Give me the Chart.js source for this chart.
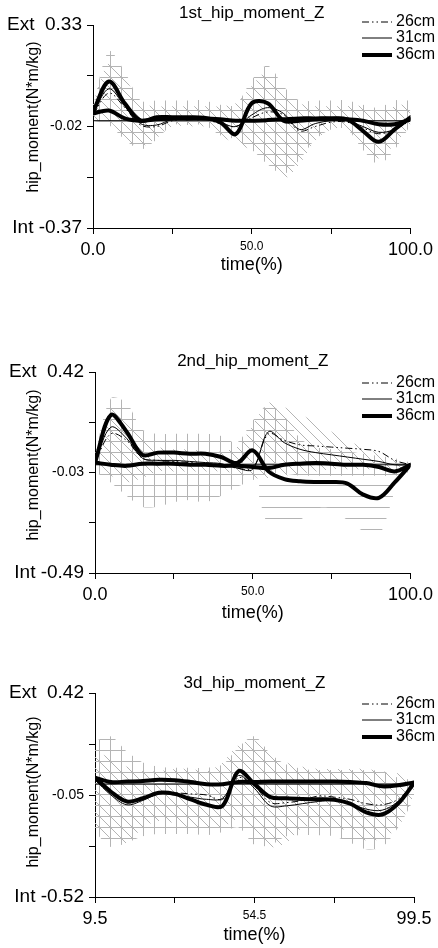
<!DOCTYPE html>
<html><head><meta charset="utf-8">
<script src="https://cdn.jsdelivr.net/npm/chart.js@4.4.1/dist/chart.umd.min.js"></script>
<style>
html,body{margin:0;padding:0;background:#fff;width:438px;height:948px;overflow:hidden}
canvas{position:absolute;left:0}
</style></head><body>
<canvas id="c1" width="438" height="290" style="top:0px"></canvas>
<canvas id="c2" width="438" height="310" style="top:320px"></canvas>
<canvas id="c3" width="438" height="308" style="top:640px"></canvas>
<script>
// ---------- DATA ----------
const seriesLabels = ['26cm', '31cm', '36cm'];

// Panel 1
const p1_title = '1st_hip_moment_Z';
const p1_time = [0,5,10,15,20,25,30,35,40,45,50,55,60,65,70,75,80,85,90,95,100];
const p1_26  = [0.02,0.095,0.045,-0.015,-0.02,0.0,0.005,0.005,-0.01,-0.02,0.01,0.03,0.02,-0.035,-0.02,-0.005,-0.005,-0.025,-0.045,-0.03,0.0];
const p1_31  = [0.025,0.11,0.05,-0.01,-0.015,0.005,0.01,0.008,-0.005,-0.02,0.02,0.045,0.025,-0.03,-0.01,0.0,0.0,-0.02,-0.04,-0.03,0.005];
const p1_36  = [0.03,0.135,0.06,0.0,0.012,0.012,0.012,0.01,-0.005,-0.046,0.06,0.06,0.0,0.0,0.005,0.008,0.005,-0.035,-0.073,-0.03,0.012];
const p1_36b = [0.025,0.035,0.008,0.0,0.005,0.008,0.008,0.008,0.005,0.0,0.0,0.002,0.005,0.008,0.008,0.008,0.005,0.0,-0.012,-0.012,0.005];
const p1_crossUp = [0.05,0.24,0.17,0.07,0.07,0.07,0.07,0.07,0.055,0.055,0.14,0.19,0.12,0.07,0.07,0.07,0.07,0.055,0.045,0.07,0.07];
const p1_crossLo = [0.0,-0.015,-0.065,-0.1,-0.065,-0.015,-0.015,-0.015,-0.05,-0.065,-0.1,-0.15,-0.185,-0.135,-0.065,-0.03,-0.03,-0.1,-0.15,-0.1,-0.015];
const p1_diagUp = [0.06,0.2,0.15,0.06,0.05,0.05,0.05,0.05,0.05,0.06,0.12,0.17,0.1,0.06,0.05,0.05,0.05,0.05,0.03,0.05,0.06];
const p1_diagLo = [0.0,0.0,-0.06,-0.09,-0.06,-0.02,-0.02,-0.02,-0.05,-0.08,-0.1,-0.14,-0.2,-0.15,-0.07,-0.03,-0.03,-0.08,-0.13,-0.08,-0.02];
const p1_yMin = -0.37, p1_yMax = 0.33;
const p1_yTickLabels = ['Int -0.37', '', '-0.02', '', 'Ext  0.33'];
const p1_xMin = 0, p1_xMax = 100;
const p1_xTickLabels = ['0.0', '', '50.0', '', '100.0'];

// Panel 2
const p2_title = '2nd_hip_moment_Z';
const p2_time = [0,5,10,15,20,25,30,35,40,45,50,55,60,65,70,75,80,85,90,95,100];
const p2_26  = [0.01,0.14,0.11,0.03,0.02,0.015,0.01,0.005,0.0,-0.015,-0.015,0.14,0.11,0.09,0.085,0.08,0.075,0.07,0.06,0.02,0.0];
const p2_31  = [0.01,0.17,0.12,0.03,0.02,0.02,0.015,0.01,0.005,-0.015,-0.02,0.15,0.1,0.07,0.055,0.045,0.035,0.025,0.015,0.0,0.0];
const p2_36  = [0.01,0.225,0.15,0.045,0.055,0.055,0.05,0.05,0.035,0.008,0.065,-0.03,-0.065,-0.075,-0.078,-0.078,-0.085,-0.135,-0.15,-0.08,0.0];
const p2_36b = [0.01,0.0,-0.005,0.005,0.005,0.005,0.0,0.0,-0.005,-0.005,-0.01,-0.015,0.0,0.005,0.008,0.005,0.0,0.0,-0.01,-0.03,0.0];
const p2_crossUp = [0.05,0.3,0.28,0.16,0.14,0.14,0.14,0.14,0.13,0.1,0.2,0.27,0.22,0.12,0.08,0.07,0.06,0.05,0.04,0.03,0.01];
const p2_crossLo = [-0.03,-0.08,-0.14,-0.19,-0.19,-0.17,-0.16,-0.17,-0.14,-0.1,-0.07,-0.04,-0.04,-0.05,-0.05,-0.05,-0.05,-0.05,-0.05,-0.05,-0.03];
const p2_diagUp = [0.05,0.25,0.22,0.12,0.08,0.07,0.07,0.06,0.06,0.08,0.18,0.28,0.26,0.23,0.19,0.15,0.11,0.08,0.05,0.02,0.0];
const p2_diagLo = [-0.02,-0.05,-0.08,-0.06,-0.03,-0.03,-0.03,-0.03,-0.03,-0.04,-0.06,-0.06,-0.05,-0.04,-0.03,-0.02,-0.02,-0.02,-0.02,-0.02,-0.02];
const p2_hTime = [52,55,60,65,70,75,80,85,90,95];
const p2_hUp = [-0.06,-0.06,-0.06,-0.06,-0.06,-0.06,-0.06,-0.06,-0.06,-0.06];
const p2_hLo = [-0.15,-0.27,-0.28,-0.25,-0.2,-0.2,-0.25,-0.3,-0.32,-0.12];
const p2_yMin = -0.49, p2_yMax = 0.42;
const p2_yTickLabels = ['Int -0.49', '', '-0.03', '', 'Ext  0.42'];
const p2_xMin = 0, p2_xMax = 100;
const p2_xTickLabels = ['0.0', '', '50.0', '', '100.0'];

// Panel 3
const p3_title = '3d_hip_moment_Z';
const p3_time = [9.5,14,18.5,23,27.5,32,36.5,41,45.5,50,54.5,59,63.5,68,72.5,77,81.5,86,90.5,95,99.5];
const p3_26  = [0.02,-0.04,-0.085,-0.065,-0.04,-0.04,-0.045,-0.05,-0.07,0.03,-0.01,-0.085,-0.085,-0.075,-0.055,-0.06,-0.07,-0.09,-0.095,-0.07,0.0];
const p3_31  = [0.02,-0.05,-0.095,-0.075,-0.045,-0.05,-0.06,-0.07,-0.065,0.04,-0.02,-0.1,-0.1,-0.09,-0.08,-0.075,-0.09,-0.115,-0.12,-0.08,0.0];
const p3_36  = [0.03,-0.035,-0.08,-0.065,-0.04,-0.045,-0.07,-0.095,-0.1,0.06,0.0,-0.06,-0.065,-0.068,-0.07,-0.072,-0.09,-0.13,-0.14,-0.09,0.005];
const p3_36b = [0.03,0.01,0.012,0.015,0.02,0.018,0.01,0.0,0.0,0.01,0.01,0.012,0.012,0.012,0.012,0.012,0.01,0.005,-0.01,-0.005,0.008];
const p3_crossUp = [0.2,0.22,0.15,0.1,0.08,0.075,0.075,0.075,0.09,0.17,0.22,0.14,0.09,0.07,0.065,0.065,0.065,0.065,0.06,0.03,0.02];
const p3_crossLo = [-0.22,-0.29,-0.27,-0.24,-0.23,-0.23,-0.23,-0.235,-0.22,-0.2,-0.28,-0.28,-0.24,-0.235,-0.235,-0.24,-0.27,-0.3,-0.29,-0.2,-0.07];
const p3_diagUp = [0.15,0.12,0.08,0.06,0.06,0.07,0.07,0.06,0.1,0.18,0.2,0.14,0.1,0.08,0.07,0.07,0.07,0.07,0.06,0.05,0.02];
const p3_diagLo = [-0.2,-0.25,-0.27,-0.2,-0.17,-0.18,-0.2,-0.2,-0.2,-0.16,-0.24,-0.29,-0.27,-0.2,-0.19,-0.2,-0.22,-0.26,-0.25,-0.2,-0.05];
const p3_yMin = -0.52, p3_yMax = 0.42;
const p3_yTickLabels = ['Int -0.52', '', '-0.05', '', 'Ext  0.42'];
const p3_xMin = 9.5, p3_xMax = 99.5;
const p3_xTickLabels = ['9.5', '', '54.5', '', '99.5'];

const xTitle = 'time(%)';
const yTitle = 'hip_moment(N*m/kg)';

// ---------- LAYOUT / STYLE ----------
const FONT = "'Liberation Sans', Arial, sans-serif";
const HATCH = '#b4b4b4';
const layouts = [
  {id:'c1', h:290, top:25, bottom:228, left:93, right:412, titleY:13, timeY:265, yTitleX:34, yTitleY:117, legY:[22,38,55]},
  {id:'c2', h:310, top:52, bottom:253, left:95, right:413, titleY:41, timeY:293, yTitleX:34, yTitleY:145, legY:[63,79,96]},
  {id:'c3', h:308, top:53, bottom:257, left:95, right:414, titleY:43, timeY:295, yTitleX:34, yTitleY:152, legY:[64,80,97]}
];
const lineStyles = [
  {width:1, dash:[7,3,1.5,3,1.5,3]},
  {width:1, dash:[]},
  {width:4, dash:[]}
];

function makePattern(kind) {
  const s = 11, c = document.createElement('canvas');
  c.width = s; c.height = s;
  const g = c.getContext('2d');
  g.strokeStyle = HATCH; g.lineWidth = 1;
  g.beginPath();
  if (kind === 'cross') { g.moveTo(0, 0.5); g.lineTo(s, 0.5); g.moveTo(0.5, 0); g.lineTo(0.5, s); }
  if (kind === 'diag') { g.moveTo(-1, -1); g.lineTo(s + 1, s + 1); g.moveTo(-1, s - 1); g.lineTo(1, s + 1); g.moveTo(s - 1, -1); g.lineTo(s + 1, 1); }
  if (kind === 'horiz') { g.moveTo(0, 0.5); g.lineTo(s, 0.5); }
  g.stroke();
  return g.createPattern(c, 'repeat');
}

function pts(xs, ys) { return xs.map((x, i) => ({x: x, y: ys[i]})); }

function build(L, d) {
  const patterns = {cross: makePattern('cross'), diag: makePattern('diag'), horiz: makePattern('horiz')};
  const datasets = [];
  const curve = {borderColor:'#000', pointRadius:0, fill:false, tension:0.35, borderJoinStyle:'round', borderCapStyle:'round'};
  datasets.push(Object.assign({label: seriesLabels[2], data: pts(d.time, d.s36), borderWidth:4}, curve));
  datasets.push(Object.assign({label: seriesLabels[2] + ' ', data: pts(d.time, d.s36b), borderWidth:4}, curve));
  datasets.push(Object.assign({label: seriesLabels[1], data: pts(d.time, d.s31), borderWidth:1}, curve));
  datasets.push(Object.assign({label: seriesLabels[0], data: pts(d.time, d.s26), borderWidth:1, borderDash:lineStyles[0].dash}, curve, {borderCapStyle:'butt'}));
  datasets.push({label: 'zero', data: [{x: d.xMin, y: 0}, {x: d.xMax, y: 0}], borderColor:'#000', borderWidth:1, pointRadius:0, fill:false});
  d.bands.forEach(b => {
    datasets.push({label:'band', data: pts(b.time, b.up), borderWidth:0, borderColor:'rgba(0,0,0,0)', pointRadius:0, tension:0.3, fill:false});
    datasets.push({label:'band', data: pts(b.time, b.lo), borderWidth:0, borderColor:'rgba(0,0,0,0)', pointRadius:0, tension:0.3, fill:'-1', backgroundColor: patterns[b.kind]});
  });

  const yTicks = [0,1,2,3,4].map(i => d.yMin + (d.yMax - d.yMin) * i / 4);
  const xTicks = [0,1,2,3,4].map(i => d.xMin + (d.xMax - d.xMin) * i / 4);

  const textPlugin = {
    id: 'panelText',
    afterDraw(chart) {
      const ctx = chart.ctx, a = chart.chartArea;
      ctx.save();
      ctx.fillStyle = '#000';
      ctx.textAlign = 'center'; ctx.textBaseline = 'middle';
      ctx.font = '17px ' + FONT;
      ctx.fillText(d.title, (a.left + a.right) / 2, L.titleY);
      ctx.font = '18px ' + FONT;
      ctx.fillText(xTitle, (a.left + a.right) / 2, L.timeY);
      ctx.save();
      ctx.translate(L.yTitleX, L.yTitleY); ctx.rotate(-Math.PI / 2);
      ctx.font = '16px ' + FONT;
      ctx.fillText(yTitle, 0, 0);
      ctx.restore();
      ctx.textAlign = 'left';
      ctx.font = '16px ' + FONT;
      for (let i = 0; i < 3; i++) {
        const y = L.legY[i];
        ctx.beginPath();
        ctx.lineWidth = lineStyles[i].width;
        ctx.setLineDash(lineStyles[i].dash);
        ctx.moveTo(362, y); ctx.lineTo(392, y);
        ctx.strokeStyle = '#000';
        ctx.stroke();
        ctx.setLineDash([]);
        ctx.fillText(seriesLabels[i], 396, y);
      }
      ctx.restore();
    }
  };

  new Chart(document.getElementById(L.id), {
    type: 'line',
    data: {datasets},
    options: {
      responsive: false, animation: false,
      layout: {padding: {left: 0, right: 438 - L.right, top: L.top, bottom: 0}},
      plugins: {legend: {display: false}, tooltip: {enabled: false}, title: {display: false}},
      scales: {
        x: {
          type: 'linear', min: d.xMin, max: d.xMax,
          afterBuildTicks: s => { s.ticks = xTicks.map(v => ({value: v})); },
          afterFit: s => { s.height = L.h - L.bottom; },
          ticks: {
            autoSkip: false, maxRotation: 0, padding: 5, color: '#000',
            callback: (v, i) => d.xTickLabels[i],
            font: c => ({family: FONT, size: (c.index === 2) ? 12 : 18})
          },
          grid: {display: true, drawOnChartArea: false, drawTicks: true, tickLength: 6, color: '#000', lineWidth: 1},
          border: {display: true, color: '#000', width: 1}
        },
        y: {
          type: 'linear', min: d.yMin, max: d.yMax,
          afterBuildTicks: s => { s.ticks = yTicks.map(v => ({value: v})); },
          afterFit: s => { s.width = L.left; },
          ticks: {
            autoSkip: false, padding: 5, color: '#000',
            callback: (v, i) => d.yTickLabels[i],
            font: c => ({family: FONT, size: (c.index === 2) ? 14 : 19})
          },
          grid: {display: true, drawOnChartArea: false, drawTicks: true, tickLength: 6, color: '#000', lineWidth: 1},
          border: {display: true, color: '#000', width: 1}
        }
      }
    },
    plugins: [textPlugin]
  });
}

build(layouts[0], {title:p1_title, time:p1_time, s26:p1_26, s31:p1_31, s36:p1_36, s36b:p1_36b,
  bands:[{kind:'cross', time:p1_time, up:p1_crossUp, lo:p1_crossLo},{kind:'diag', time:p1_time, up:p1_diagUp, lo:p1_diagLo}],
  yMin:p1_yMin, yMax:p1_yMax, yTickLabels:p1_yTickLabels, xMin:p1_xMin, xMax:p1_xMax, xTickLabels:p1_xTickLabels});
build(layouts[1], {title:p2_title, time:p2_time, s26:p2_26, s31:p2_31, s36:p2_36, s36b:p2_36b,
  bands:[{kind:'cross', time:p2_time, up:p2_crossUp, lo:p2_crossLo},{kind:'diag', time:p2_time, up:p2_diagUp, lo:p2_diagLo},{kind:'horiz', time:p2_hTime, up:p2_hUp, lo:p2_hLo}],
  yMin:p2_yMin, yMax:p2_yMax, yTickLabels:p2_yTickLabels, xMin:p2_xMin, xMax:p2_xMax, xTickLabels:p2_xTickLabels});
build(layouts[2], {title:p3_title, time:p3_time, s26:p3_26, s31:p3_31, s36:p3_36, s36b:p3_36b,
  bands:[{kind:'cross', time:p3_time, up:p3_crossUp, lo:p3_crossLo},{kind:'diag', time:p3_time, up:p3_diagUp, lo:p3_diagLo}],
  yMin:p3_yMin, yMax:p3_yMax, yTickLabels:p3_yTickLabels, xMin:p3_xMin, xMax:p3_xMax, xTickLabels:p3_xTickLabels});
</script>
</body></html>
